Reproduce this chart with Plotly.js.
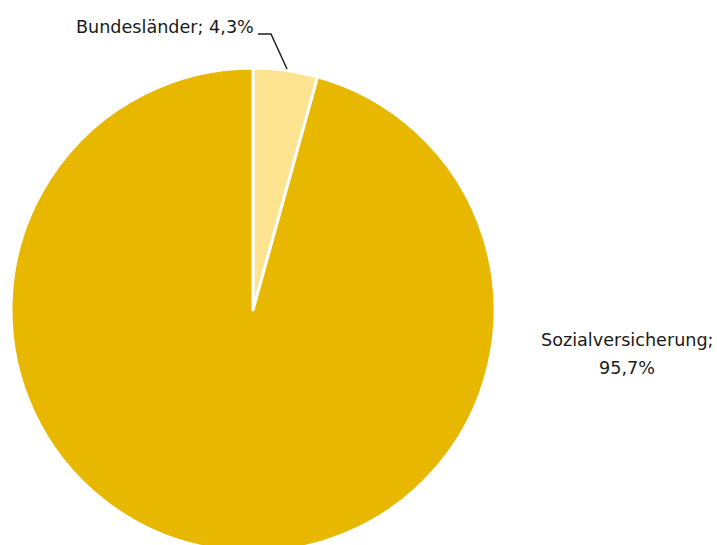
<!DOCTYPE html>
<html>
<head>
<meta charset="utf-8">
<script src="https://cdn.plot.ly/plotly-3.0.1.min.js"></script>
<style>
html, body { margin: 0; padding: 0; overflow: hidden; background: #fff; width: 717px; height: 545px; }
#chart { width: 717px; height: 620px; }
</style>
</head>
<body>
<div id="chart"></div>
<script>
const categories = ["Bundesländer", "Sozialversicherung"];
const shares = [4.3, 95.7];
const sliceColors = ["#FEE491", "#E8B700"];

const W = 717, H = 620;
const px = x => x / W;
const py = y => 1 - y / H;
const fmt = v => v.toFixed(1).replace(".", ",") + "%";
const font = { family: "DejaVu Sans", size: 17.6, color: "#1a1a1a" };

const trace = {
  type: "pie",
  labels: categories,
  values: shares,
  sort: false,
  direction: "clockwise",
  rotation: 0,
  textinfo: "none",
  hoverinfo: "label+percent",
  marker: { colors: sliceColors, line: { color: "#ffffff", width: 3 } },
  domain: { x: [px(11), px(495)], y: [py(552), py(68)] },
  showlegend: false
};

const layout = {
  width: W, height: H,
  margin: { l: 0, r: 0, t: 0, b: 0 },
  paper_bgcolor: "#ffffff",
  showlegend: false,
  annotations: [
    { xref: "paper", yref: "paper", x: px(256), y: py(27), xanchor: "right", yanchor: "middle",
      text: categories[0] + "; " + fmt(shares[0]), showarrow: false, font: font },
    { xref: "paper", yref: "paper", x: px(627), y: py(340), xanchor: "center", yanchor: "middle",
      text: categories[1] + ";", showarrow: false, font: font },
    { xref: "paper", yref: "paper", x: px(627), y: py(368), xanchor: "center", yanchor: "middle",
      text: fmt(shares[1]), showarrow: false, font: font }
  ],
  shapes: [
    { type: "path", xref: "paper", yref: "paper",
      path: `M ${px(258)} ${py(34)} L ${px(271)} ${py(34)} L ${px(287)} ${py(69)}`,
      line: { color: "#222222", width: 1.5 } }
  ]
};

Plotly.newPlot("chart", [trace], layout, { displayModeBar: false, staticPlot: true });
</script>
</body>
</html>
